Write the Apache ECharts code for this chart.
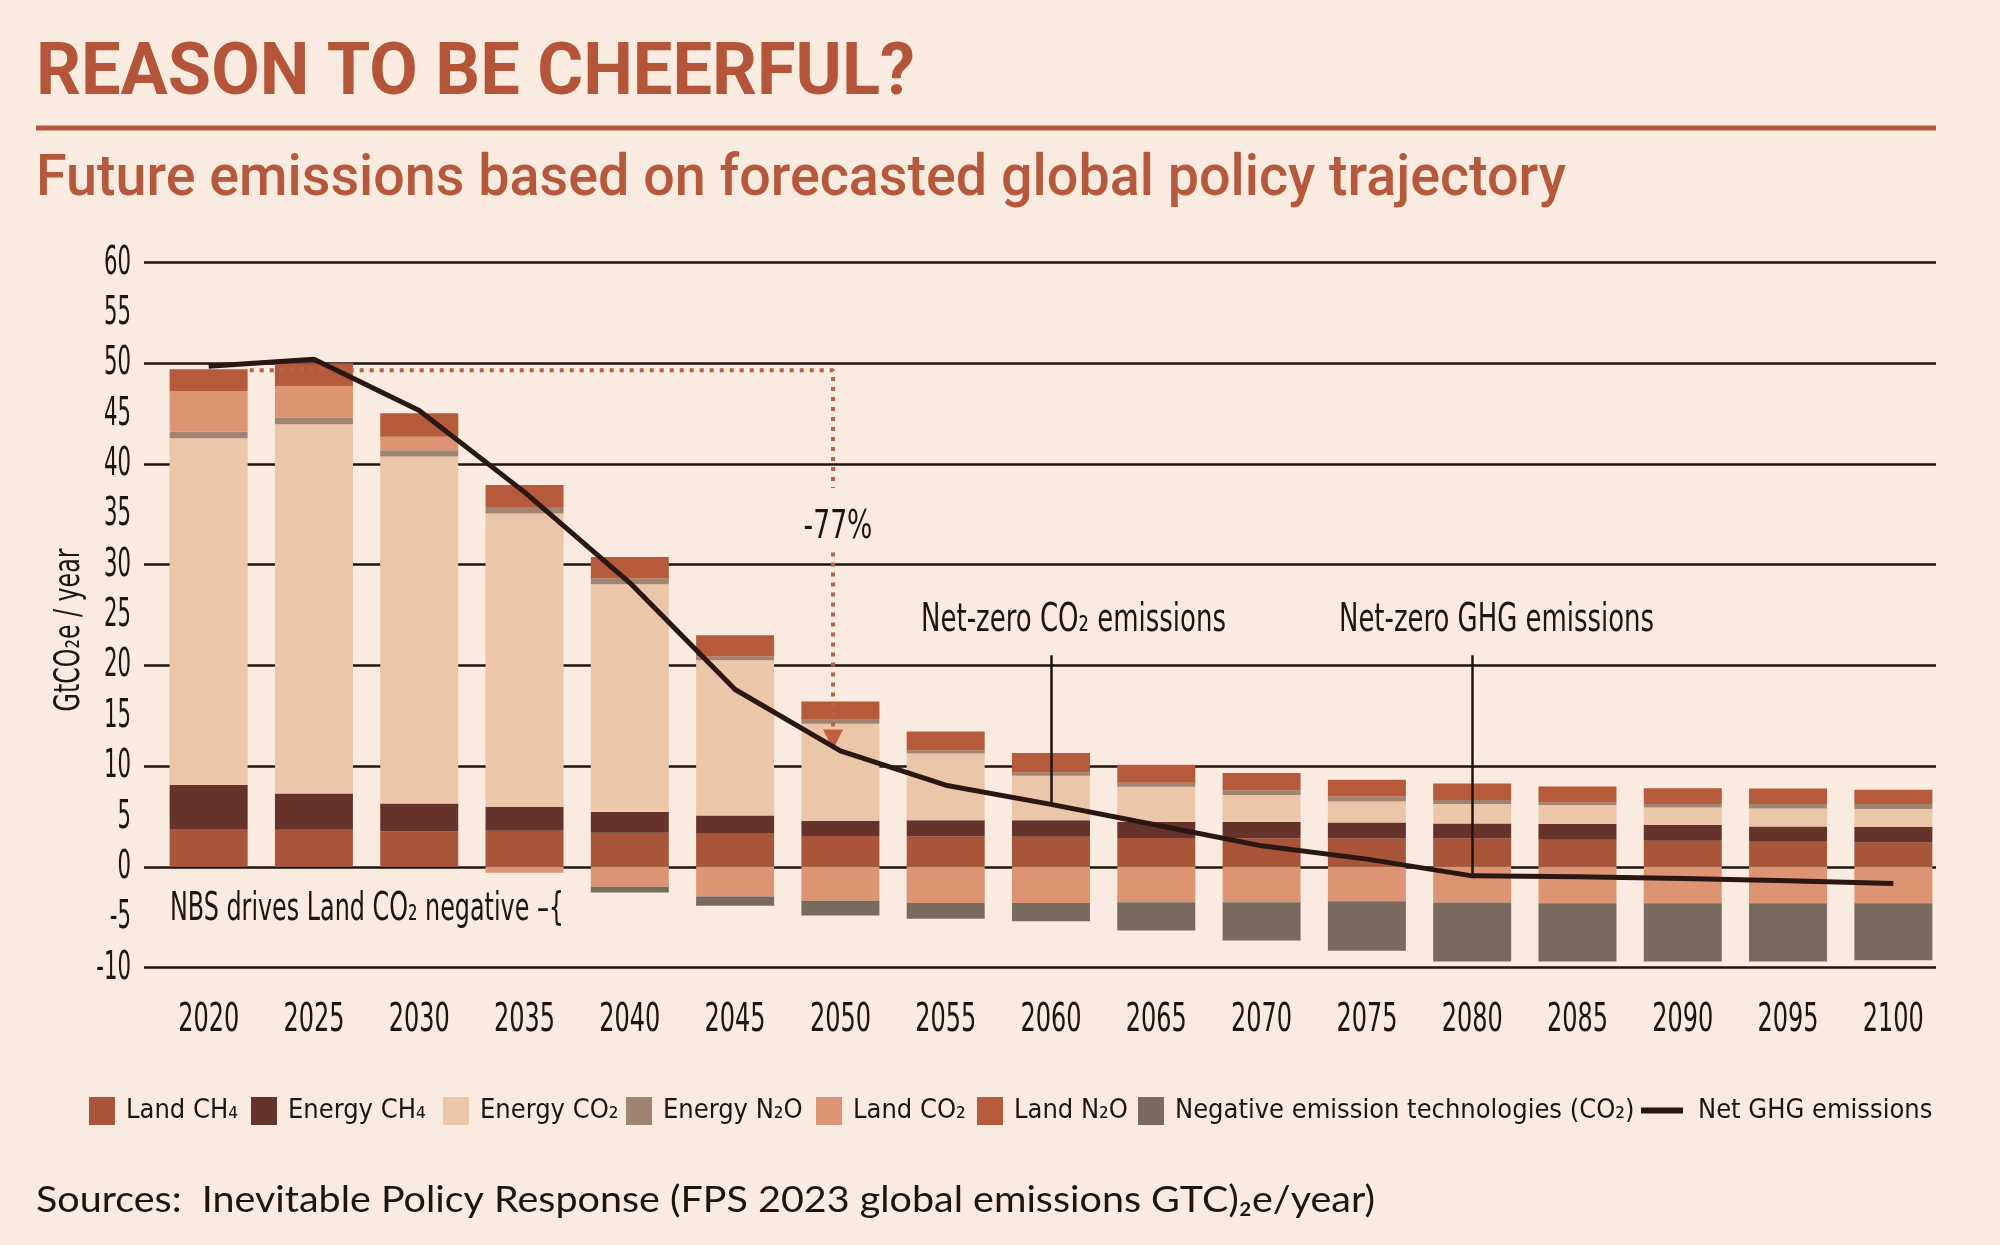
<!DOCTYPE html>
<html><head><meta charset="utf-8">
<script src="https://cdn.jsdelivr.net/npm/echarts@6/dist/echarts.min.js"></script>
<style>html,body{margin:0;padding:0;background:#F9EBDF;}#c{width:2000px;height:1245px;}</style>
</head><body><div id="c"></div>
<script>
// ---------------- DATA ----------------
const years = ['2020','2025','2030','2035','2040','2045','2050','2055','2060','2065','2070','2075','2080','2085','2090','2095','2100'];
const landCH4   = [3.74, 3.67, 3.54, 3.57, 3.37, 3.35, 3.06, 3.00, 2.97, 2.87, 2.83, 2.81, 2.81, 2.68, 2.58, 2.48, 2.42];
const energyCH4 = [4.39, 3.60, 2.74, 2.38, 2.08, 1.75, 1.50, 1.61, 1.64, 1.61, 1.62, 1.59, 1.49, 1.56, 1.59, 1.52, 1.55];
const energyCO2 = [34.41, 36.67, 34.47, 29.14, 22.61, 15.40, 9.65, 6.63, 4.42, 3.46, 2.67, 2.09, 1.93, 1.89, 1.72, 1.79, 1.76];
const energyN2O = [0.66, 0.66, 0.60, 0.63, 0.56, 0.38, 0.40, 0.33, 0.36, 0.40, 0.49, 0.50, 0.39, 0.26, 0.34, 0.44, 0.50];
const landCO2   = [4.05, 3.15, 1.36, -0.60, -1.98, -2.95, -3.36, -3.59, -3.59, -3.53, -3.53, -3.41, -3.54, -3.61, -3.61, -3.61, -3.61];
const landN2O   = [2.15, 2.25, 2.32, 2.18, 2.13, 2.10, 1.80, 1.87, 1.91, 1.78, 1.71, 1.65, 1.66, 1.59, 1.58, 1.55, 1.42];
const negTech   = [0, 0, 0, 0, -0.57, -0.92, -1.48, -1.58, -1.81, -2.80, -3.78, -4.93, -5.86, -5.79, -5.79, -5.79, -5.66];
const netGHG    = [49.7, 50.4, 45.3, 37.2, 28.2, 17.6, 11.5, 8.1, 6.2, 4.15, 2.08, 0.76, -0.9, -1.0, -1.16, -1.39, -1.66];
const yTickLabels = [60, 55, 50, 45, 40, 35, 30, 25, 20, 15, 10, 5, 0, -5, -10];
const yRange = { min: -10, max: 60, gridStep: 10 };
// annotation anchors (data units)
const baseline2020 = 49.3;
const dottedX = 5.93;
const dottedStartX = 0.39;
const dottedGap = [37.6, 31.2];
const arrowTip = 11.63;
const netZeroCO2Idx = 8, netZeroGHGIdx = 12, netZeroTop = 21;

// ---------------- FONTS ----------------
const ctx = document.createElement('canvas').getContext('2d');
function hasFont(name){
  const t = 'mmmmmmmmmmlli0123456789WQ';
  for (const base of ['monospace','serif']) {
    ctx.font = '40px ' + base; const a = ctx.measureText(t).width;
    ctx.font = '40px "' + name + '",' + base; const b = ctx.measureText(t).width;
    if (Math.abs(a - b) > 0.5) return true;
  }
  return false;
}
const NARROW = ['Liberation Sans Narrow','DejaVu Sans Condensed','Roboto Condensed','Arial Narrow'].find(hasFont) || 'Roboto';
function measure(text, size, weight, family){
  ctx.font = weight + ' ' + size + 'px "' + family + '"';
  return ctx.measureText(text).width;
}
function txt(text, x, y, o){
  const weight = o.weight || 'normal';
  const sx = o.scaleX || (o.width ? o.width / measure(text, o.size, weight, o.family) : 1);
  return { type:'text', x:x, y:y, rotation:o.rotation||0, scaleX:sx, z:100, silent:true,
    style:{ text:text, fill:o.color||'#1E1410', fontSize:o.size, fontFamily:o.family, fontWeight:weight,
      align:o.align||'left', verticalAlign:'middle', textAlign:o.align||'left', textVerticalAlign:'middle' } };
}

// ---------------- CHART ----------------
const INK = '#1E1410';
const barDefs = [
  ['Land CH₄', landCH4, '#A9553A'],
  ['Energy CH₄', energyCH4, '#66332A'],
  ['Energy CO₂', energyCO2, '#ECC6A9'],
  ['Energy N₂O', energyN2O, '#A08371'],
  ['Land CO₂', landCO2, '#DC9473'],
  ['Land N₂O', landN2O, '#B65A3C'],
  ['Negative emission technologies (CO₂)', negTech, '#786A5F']
];
const series = barDefs.map(d => ({
  name:d[0], type:'bar', stack:'total', data:d[1], barWidth:78, xAxisIndex:0, yAxisIndex:0,
  itemStyle:{color:d[2]}, silent:true, z:2
}));
series.push({
  name:'Net GHG emissions', type:'line', data:netGHG, xAxisIndex:0, yAxisIndex:0, showSymbol:false, symbol:'none',
  lineStyle:{color:'#2B1712', width:5, join:'round'}, itemStyle:{color:'#2B1712'}, z:6, silent:true,
  markLine:{ silent:true, symbol:['none','none'], label:{show:false}, animation:false,
    lineStyle:{color:INK, width:2.5, type:'solid'},
    data:[
      [{coord:[years[netZeroCO2Idx], netZeroTop]}, {coord:[years[netZeroCO2Idx], netGHG[netZeroCO2Idx]]}],
      [{coord:[years[netZeroGHGIdx], netZeroTop]}, {coord:[years[netZeroGHGIdx], netGHG[netZeroGHGIdx]]}]
    ]}
});
const dotStyle = {color:'#B4634A', width:4, type:[4,6], cap:'butt'};
series.push({ type:'line', xAxisIndex:2, yAxisIndex:0, showSymbol:false, symbol:'none', silent:true, z:5,
  data:[[dottedStartX, baseline2020],[dottedX, baseline2020],[dottedX, dottedGap[0]]], lineStyle:dotStyle });
series.push({ type:'line', xAxisIndex:2, yAxisIndex:0, showSymbol:false, symbol:'none', silent:true, z:5,
  data:[[dottedX, dottedGap[1]],[dottedX, arrowTip + 2.1]], lineStyle:dotStyle,
  markPoint:{ silent:true, animation:false, label:{show:false},
    data:[{coord:[dottedX, arrowTip + 1.0], symbol:'triangle', symbolSize:[20,20], symbolRotate:180, itemStyle:{color:'#BF5F3F'}}] } });
series.push({ type:'line', xAxisIndex:1, yAxisIndex:1, data:[], silent:true });

const legendStyle = {fontFamily:NARROW, fontSize:27, color:INK, padding:[0,0,0,6]};
const legendPos = [89, 251, 443, 626, 816, 977, 1138];
const legends = barDefs.map((d,i) => ({ data:[d[0]], left:legendPos[i], top:1097, icon:'rect', itemWidth:26, itemHeight:28,
  selectedMode:false, textStyle:legendStyle, padding:0 }));
legends.push({ data:['Net GHG emissions'], left:1641, top:1097, icon:'rect', itemWidth:42, itemHeight:6,
  selectedMode:false, textStyle:Object.assign({}, legendStyle, {padding:[0,0,0,10]}), padding:0 });

const chart = echarts.init(document.getElementById('c'), null, {renderer:'canvas'});
chart.setOption({
  backgroundColor:'#F9EBDF',
  animation:false,
  grid:[
    {left:156, right:54, top:262.5, bottom:277.5},
    {left:144, right:64, top:262.5, bottom:277.5}
  ],
  xAxis:[
    {type:'category', data:years, gridIndex:0, axisLine:{show:false}, axisTick:{show:false}, axisLabel:{show:false}},
    {type:'value', gridIndex:1, show:false, min:0, max:1},
    {type:'value', gridIndex:0, show:false, min:-0.5, max:years.length - 0.5}
  ],
  yAxis:[
    {type:'value', gridIndex:0, show:false, min:yRange.min, max:yRange.max},
    {type:'value', gridIndex:1, position:'left', min:yRange.min, max:yRange.max, interval:yRange.gridStep,
      axisLabel:{show:false}, axisLine:{show:false}, axisTick:{show:false},
      splitLine:{show:true, lineStyle:{color:INK, width:2.5}}}
  ],
  legend:legends,
  series:series
});

// tick labels: condensed text placed through the axes' own scales
const tickFont = {size:39, family:NARROW};
const xScale = 61 / measure('2020', tickFont.size, 'normal', NARROW);
const yScale = 27 / measure('60', tickFont.size, 'normal', NARROW);
const labelY = 1021;
const graphics = [];
years.forEach(y => {
  const px = chart.convertToPixel({xAxisIndex:0}, y);
  graphics.push(txt(y, px, labelY, {size:tickFont.size, family:NARROW, scaleX:xScale, align:'center'}));
});
yTickLabels.forEach(v => {
  const py = chart.convertToPixel({yAxisIndex:0}, v);
  graphics.push(txt(String(v), 131, py + 1, {size:tickFont.size, family:NARROW, scaleX:yScale, align:'right'}));
});
graphics.push(
  txt('REASON TO BE CHEERFUL?', 36, 76, {size:72, weight:'bold', family:'Roboto', width:879, color:'#B4553A'}),
  {type:'rect', shape:{x:36, y:125.5, width:1900, height:5}, style:{fill:'#B8593D'}, silent:true},
  txt('Future emissions based on forecasted global policy trajectory', 36, 180, {size:58, weight:500, family:'Roboto', width:1530, color:'#B5583C'}),
  txt('GtCO₂e / year', 70, 630, {size:36, family:NARROW, width:163, rotation:Math.PI/2, align:'center'}),
  txt('Net-zero CO₂ emissions', 921, 621, {size:39, family:NARROW, width:305}),
  txt('Net-zero GHG emissions', 1339, 621, {size:39, family:NARROW, width:315}),
  txt('-77%', 838, 528, {size:39, family:NARROW, width:69, align:'center'}),
  txt('NBS drives Land CO₂ negative –{', 170, 910, {size:39, family:NARROW, width:394}),
  txt('Sources:  Inevitable Policy Response (FPS 2023 global emissions GTC)₂e/year)', 36, 1200, {size:37, family:'Lato', width:1339})
);
chart.setOption({graphic:graphics});
</script></body></html>
